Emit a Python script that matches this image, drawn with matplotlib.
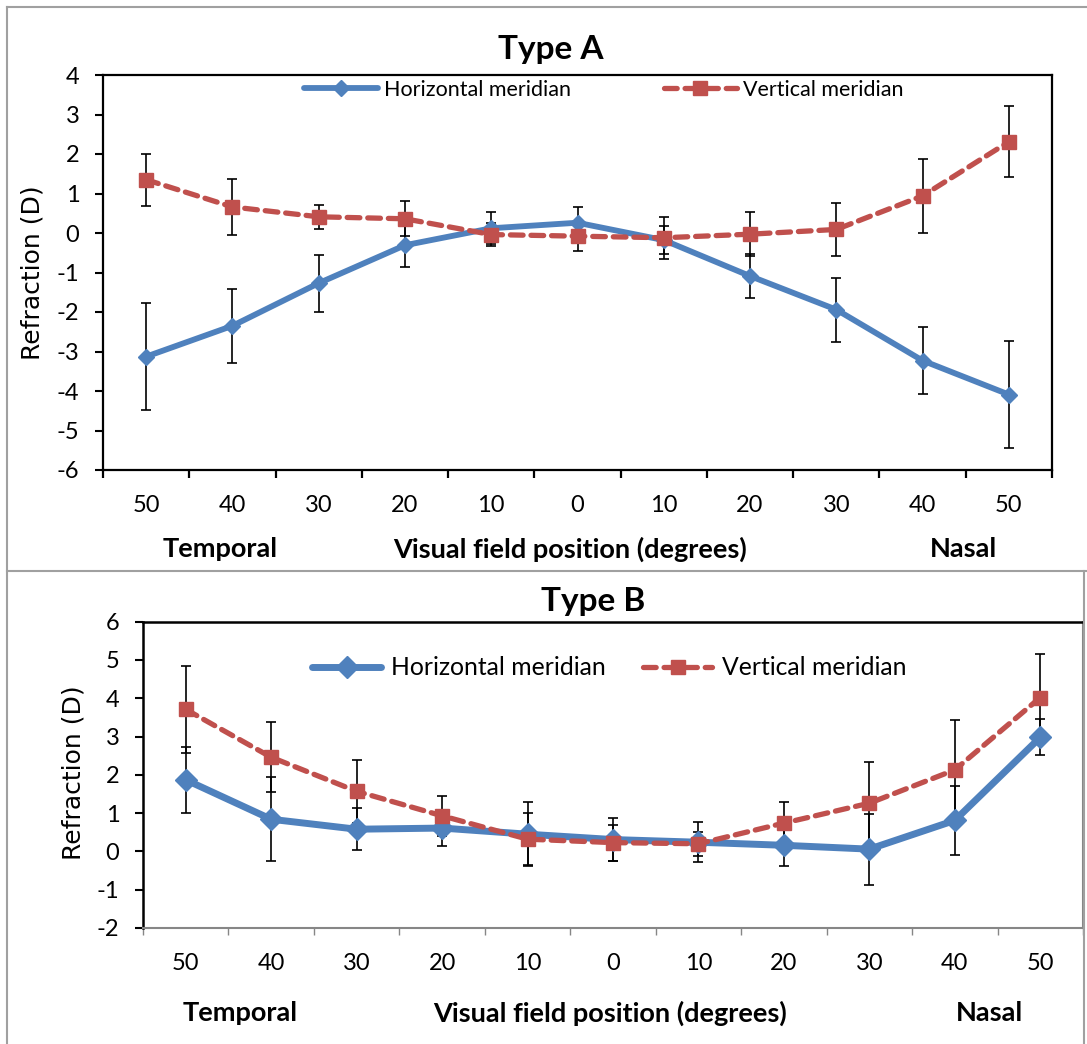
import matplotlib
matplotlib.use('Agg')
from matplotlib import pyplot as plt
from matplotlib.lines import Line2D

plt.rcParams['font.family'] = ['Lato', 'DejaVu Sans']
plt.rcParams['axes.unicode_minus'] = False

positions = ['50', '40', '30', '20', '10', '0', '10', '20', '30', '40', '50']

# Type A
horizA = [-3.13, -2.35, -1.27, -0.31, 0.12, 0.26, -0.18, -1.09, -1.94, -3.23, -4.09]
horizA_err = [1.35, 0.94, 0.72, 0.54, 0.40, 0.40, 0.36, 0.55, 0.81, 0.84, 1.36]
vertA = [1.35, 0.66, 0.41, 0.36, -0.04, -0.08, -0.12, -0.03, 0.09, 0.94, 2.31]
vertA_err = [0.66, 0.70, 0.31, 0.44, 0.30, 0.38, 0.53, 0.56, 0.66, 0.93, 0.90]

# Type B
horizB = [1.87, 0.84, 0.58, 0.61, 0.45, 0.31, 0.24, 0.16, 0.06, 0.81, 2.98]
horizB_err = [0.87, 1.10, 0.55, 0.46, 0.83, 0.56, 0.52, 0.55, 0.93, 0.91, 0.47]
vertB = [3.71, 2.46, 1.57, 0.93, 0.32, 0.23, 0.20, 0.74, 1.26, 2.13, 4.02]
vertB_err = [1.13, 0.91, 0.82, 0.52, 0.68, 0.47, 0.32, 0.56, 1.07, 1.29, 1.14]

BLUE = '#4F81BD'
RED = '#C0504D'
GRAY = '#868686'
W, H = 1087, 1044


def fx(px):
   return px / W


def fy(py):
   return 1 - py / H


def draw(ax, horiz, herr, vert, verr, dsize, lw_blue):
   x = list(range(len(positions)))
   ax.errorbar(x, horiz, yerr=herr, fmt='none', ecolor='black', elinewidth=1.2,
               capsize=3.5, capthick=1.2, zorder=2)
   ax.errorbar(x, vert, yerr=verr, fmt='none', ecolor='black', elinewidth=1.2,
               capsize=3.5, capthick=1.2, zorder=2)
   ax.plot(x, horiz, color=BLUE, lw=lw_blue, marker='D', ms=dsize,
           solid_capstyle='round', zorder=3)
   ax.plot(x, vert, color=RED, lw=3.8, marker='s', ms=9.5, dashes=(2.4, 1.5),
           dash_capstyle='round', zorder=4)
   ax.set_xlim(-0.5, len(positions) - 0.5)
   ax.set_xticks([i - 0.5 for i in range(len(positions) + 1)])
   ax.set_xticklabels([])
   ax.set_xticks(x, minor=True)
   ax.set_xticklabels(positions, minor=True, fontsize=17)
   ax.tick_params(axis='x', which='minor', length=0, pad=18)
   ax.tick_params(axis='y', labelsize=17, pad=11, length=6, width=1.5)


fig = plt.figure(figsize=(W / 100, H / 100), dpi=100)

# panel borders
fig.add_artist(Line2D([fx(7), 1], [fy(7), fy(7)], color='#A0A0A0', lw=1.5))
fig.add_artist(Line2D([fx(7), fx(7)], [fy(7), 0], color='#A0A0A0', lw=1.5))
fig.add_artist(Line2D([fx(7), 1], [fy(571), fy(571)], color='#A0A0A0', lw=1.5))
fig.add_artist(Line2D([fx(1084), fx(1084)], [fy(571), 0], color='#A0A0A0', lw=1.5))

# --- Type A ---
ax1 = fig.add_axes([fx(103), fy(470), fx(1052) - fx(103), fy(75) - fy(470)])
draw(ax1, horizA, horizA_err, vertA, vertA_err, 8.5, 4.2)
ax1.set_ylim(-6, 4)
ax1.set_yticks(range(-6, 5))
ax1.set_yticklabels([str(v) for v in range(-6, 5)])
for s in ax1.spines.values():
   s.set_linewidth(1.6)
ax1.tick_params(axis='x', which='major', length=6, width=1.6, direction='out')
ax1.legend(['Horizontal meridian', 'Vertical meridian'], ncol=2, loc='center',
           bbox_to_anchor=(0.528, 0.962), frameon=False, fontsize=15.5,
           handlelength=3.4, handletextpad=0.3, columnspacing=4.3)

fig.text(fx(551), fy(50), 'Type A', fontsize=24, fontweight='bold', ha='center', va='center')
fig.text(fx(33), fy(273), 'Refraction (D)', fontsize=18, rotation=90,
         ha='center', va='center', family='DejaVu Sans')
fig.text(fx(220), fy(549), 'Temporal', fontsize=19.5, fontweight='bold', ha='center', va='center')
fig.text(fx(570), fy(549), 'Visual field position (degrees)', fontsize=19.5,
         fontweight='bold', ha='center', va='center')
fig.text(fx(963), fy(549), 'Nasal', fontsize=19.5, fontweight='bold', ha='center', va='center')

# --- Type B ---
ax2 = fig.add_axes([fx(143), fy(928), fx(1083) - fx(143), fy(621.7) - fy(928)])
draw(ax2, horizB, horizB_err, vertB, vertB_err, 11.5, 5.0)
ax2.set_ylim(-2, 6)
ax2.set_yticks(range(-2, 7))
ax2.set_yticklabels([str(v) for v in range(-2, 7)])
ax2.spines['top'].set_linewidth(1.8)
ax2.spines['left'].set_linewidth(1.8)
ax2.spines['bottom'].set_color(GRAY)
ax2.spines['right'].set_color(GRAY)
ax2.spines['bottom'].set_linewidth(1.5)
ax2.spines['right'].set_linewidth(1.5)
ax2.tick_params(axis='x', which='major', length=5, width=1.0, color=GRAY, direction='out')
ax2.legend(['Horizontal meridian', 'Vertical meridian'], ncol=2, loc='center',
           bbox_to_anchor=(0.496, 0.849), frameon=False, fontsize=17.8,
           handlelength=2.8, handletextpad=0.4, columnspacing=1.5)

fig.text(fx(593), fy(602), 'Type B', fontsize=24, fontweight='bold', ha='center', va='center')
fig.text(fx(73), fy(773), 'Refraction (D)', fontsize=18, rotation=90,
         ha='center', va='center', family='DejaVu Sans')
fig.text(fx(240), fy(1013), 'Temporal', fontsize=19.5, fontweight='bold', ha='center', va='center')
fig.text(fx(610), fy(1013), 'Visual field position (degrees)', fontsize=19.5,
         fontweight='bold', ha='center', va='center')
fig.text(fx(990), fy(1013), 'Nasal', fontsize=19.5, fontweight='bold', ha='center', va='center')

plt.savefig('out.png', dpi=100)
